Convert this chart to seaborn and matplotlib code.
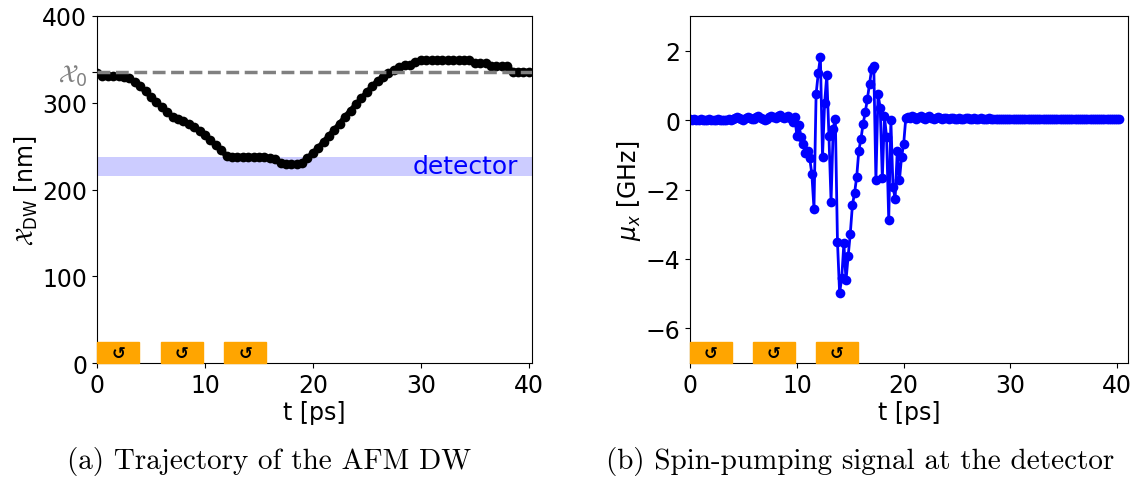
import numpy as np
import pandas as pd
import matplotlib
matplotlib.use("Agg")
import matplotlib.pyplot as plt
import matplotlib.transforms as mtransforms
from matplotlib.patches import Rectangle
import seaborn as sns

sns.set_style("ticks")
plt.rcParams['font.family'] = ['DejaVu Sans']
plt.rcParams['xtick.major.size'] = 3.5
plt.rcParams['ytick.major.size'] = 3.5
plt.rcParams['axes.linewidth'] = 0.8
for k in ['text.color', 'axes.labelcolor', 'xtick.color', 'ytick.color', 'axes.edgecolor']:
    plt.rcParams[k] = 'black'

# (a) domain wall trajectory, sampled every 0.5 ps
t_dw = np.round(np.arange(0, 40.01, 0.5), 1)
x_dw = [334, 331, 331, 331, 331, 330, 328, 324, 319, 313,
        307, 301, 295, 289, 284, 281, 279, 276, 272, 268,
        263, 257, 251, 245, 239, 238, 238, 238, 238, 238,
        238, 238, 236, 235, 230, 229, 229, 229, 231, 236,
        242, 248, 255, 262, 269, 276, 284, 291, 298, 305,
        312, 319, 325, 330, 334, 338, 341, 343, 344, 347,
        349, 349, 349, 349, 349, 349, 349, 349, 349, 349,
        346, 346, 346, 342, 342, 342, 342, 336, 336, 336, 336]
x0 = 335
det_lo, det_hi = 216, 238

# (b) spin-pumping signal, sampled every 0.2 ps
t_mu = np.round(np.arange(0, 40.21, 0.2), 1)
mu_x = [0.02, 0.01, 0.02, 0.0, 0.01, 0.02, 0.01, 0.0, 0.01, 0.02,
        0.01, 0.0, 0.01, 0.02, 0.01, 0.0, -0.01, 0.01, 0.02, 0.0,
        0.03, 0.06, 0.08, 0.05, 0.02, 0.01, 0.05, 0.09, 0.06, 0.02,
        0.04, 0.1, 0.12, 0.07, 0.02, 0.0, 0.04, 0.09, 0.13, 0.1,
        0.06, 0.12, 0.14, 0.1, 0.05,
        0.1, 0.12, 0.05, -0.05, 0.1, -0.45, -0.15, -0.5, -0.7, -0.95,
        -0.9, -1.1, -1.55, -2.55, 0.75, 1.35, 1.82, -1.05, 0.5, 1.3,
        -0.45, -2.35, -0.25, 0.04, -3.5, -4.98, -4.55, -3.55, -4.62, -3.92,
        -3.27, -2.45, -2.1, -1.64, -0.88, -0.54, -0.11, 0.22, 0.61, 1.04,
        1.47, 1.56, -1.74, 0.75, 0.36, -1.68, 0.12, -0.5, -2.88, 0.0,
        -1.93, -2.26, -0.88, -1.74, -1.07, -0.68, 0.07,
        0.1, 0.05, 0.12, 0.08, 0.03, 0.1, 0.13, 0.07, 0.02, 0.09,
        0.11, 0.06, 0.03, 0.07, 0.09, 0.05, 0.02, 0.06, 0.07, 0.03,
        0.05, 0.06, 0.03, 0.04, 0.06, 0.04, 0.03, 0.05, 0.05, 0.03,
        0.04, 0.05, 0.04, 0.03, 0.05, 0.04, 0.03, 0.04, 0.05, 0.03,
        0.04, 0.04, 0.03, 0.04, 0.04, 0.03, 0.04, 0.03, 0.03, 0.04,
        0.03, 0.03, 0.04, 0.03, 0.03, 0.03, 0.04, 0.03, 0.03, 0.03,
        0.03, 0.02, 0.03, 0.03, 0.02, 0.03, 0.03, 0.02, 0.03, 0.03,
        0.02, 0.03, 0.03, 0.02, 0.03, 0.02, 0.03, 0.03, 0.02, 0.03,
        0.03, 0.02, 0.03, 0.02, 0.03, 0.03, 0.02, 0.03, 0.02, 0.03,
        0.02, 0.03, 0.03, 0.02, 0.03, 0.02, 0.03, 0.02, 0.03, 0.03]

# pulse windows (ps)
pulse_start = [0.0, 5.9, 11.8]
pulse_width = 3.9

df_dw = pd.DataFrame({'t': t_dw, 'x': x_dw})
df_mu = pd.DataFrame({'t': t_mu, 'mu': mu_x})

fig = plt.figure(figsize=(11.35, 4.81), dpi=100)
ax1 = fig.add_axes([0.0855, 0.2432, 0.3832, 0.7215])
ax2 = fig.add_axes([0.608, 0.2432, 0.3858, 0.7215])
fs = 17


def draw_pulses(ax):
    trans = mtransforms.blended_transform_factory(ax.transData, ax.transAxes)
    for s in pulse_start:
        ax.add_patch(Rectangle((s, 0), pulse_width, 0.06, transform=trans,
                               color='orange', zorder=3, clip_on=False))
        ax.text(s + pulse_width / 2, 0.03, '↺', transform=trans, ha='center',
                va='center', fontsize=12, fontweight='bold', color='black', zorder=4)


# ---- (a)
ax1.axhspan(det_lo, det_hi, color='blue', alpha=0.2, lw=0)
sns.lineplot(data=df_dw, x='t', y='x', ax=ax1, color='black', marker='o',
             markersize=7, markeredgewidth=0, linewidth=4, errorbar=None, zorder=2)
ax1.axhline(x0, color='gray', linestyle='--', linewidth=2.5, zorder=5)
ax1.text(39.0, (det_lo + det_hi) / 2, 'detector', color='blue', fontsize=18,
         ha='right', va='center')
draw_pulses(ax1)
ax1.set_xlim(0, 40.3)
ax1.set_ylim(0, 400)
ax1.set_yticks([0, 100, 200, 300, 400, x0])
ax1.set_yticklabels(['0', '100', '200', '300', '400', r'$\mathcal{X}_0$'])
ax1.set_xlabel('t [ps]', fontsize=fs, labelpad=2)
ax1.set_ylabel(r'$\mathcal{X}_\mathrm{DW}$ [nm]', fontsize=fs, labelpad=2)
ax1.tick_params(labelsize=fs)
ax1.get_yticklabels()[-1].set_color('gray')
ax1.get_yticklabels()[-1].set_fontsize(18)

# ---- (b)
sns.lineplot(data=df_mu, x='t', y='mu', ax=ax2, color='blue', marker='o',
             markersize=7, markeredgewidth=0, linewidth=2, errorbar=None, zorder=2)
draw_pulses(ax2)
ax2.set_xlim(0, 41)
ax2.set_ylim(-7, 3)
ax2.set_yticks([-6, -4, -2, 0, 2])
ax2.set_xlabel('t [ps]', fontsize=fs, labelpad=2)
ax2.set_ylabel(r'$\mu_x$ [GHz]', fontsize=fs, labelpad=2)
ax2.tick_params(labelsize=fs)

for ax in (ax1, ax2):
    ax.set_xticks([0, 10, 20, 30, 40])
    for sp in ax.spines.values():
        sp.set_visible(True)

fig.text(0.237, 0.04, '(a) Trajectory of the AFM DW', family='cmr10',
         fontsize=21, ha='center', va='center')
fig.text(0.758, 0.04, '(b) Spin-pumping signal at the detector', family='cmr10',
         fontsize=21, ha='center', va='center')

fig.savefig('out.png', dpi=100)
